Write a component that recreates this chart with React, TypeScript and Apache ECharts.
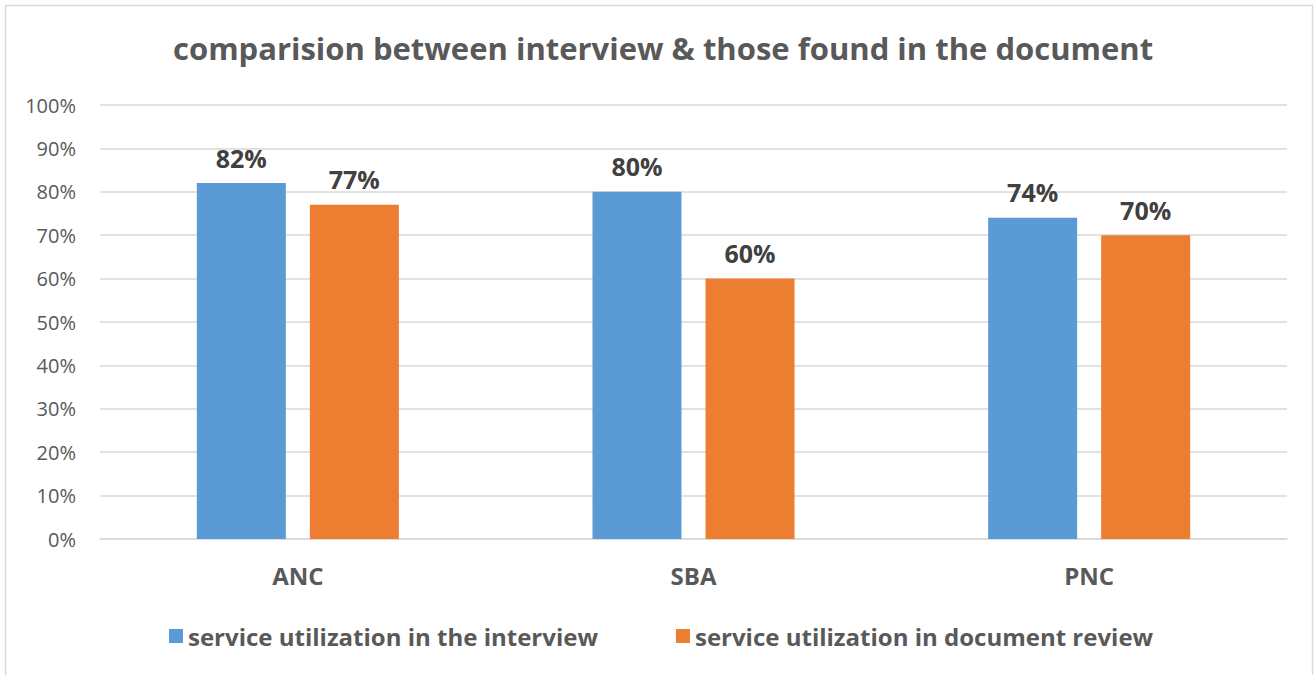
import React, { useEffect, useRef } from "react";
import * as echarts from "echarts";

const categories = ["ANC", "SBA", "PNC"];
const interviewValues = [82, 80, 74];
const documentValues = [77, 60, 70];
const seriesNames = [
  "service utilization in the interview",
  "service utilization in document review",
];
const titleText = "comparision between interview & those found in the document";

const FONT = "'Open Sans', 'Noto Sans', sans-serif";

export default function App() {
  const ref = useRef<HTMLDivElement>(null);
  useEffect(() => {
    if (!ref.current) return;
    const chart = echarts.init(ref.current, null, { renderer: "svg" });
    const labelStyle = {
      show: true,
      position: "top" as const,
      distance: 13,
      formatter: "{c}%",
      fontFamily: FONT,
      fontWeight: "bold" as const,
      fontSize: 25,
      color: "#404040",
    };
    chart.setOption({
      animation: false,
      backgroundColor: "#ffffff",
      textStyle: { fontFamily: FONT },
      title: {
        text: titleText,
        left: 168,
        top: 27,
        textStyle: {
          fontFamily: FONT,
          fontWeight: "bold",
          fontSize: 31,
          color: "#595959",
        },
      },
      graphic: [
        {
          type: "rect",
          shape: { x: 5.5, y: 5.5, width: 1307, height: 680 },
          style: { fill: "none", stroke: "#d9d9d9", lineWidth: 1.5 },
          silent: true,
          z: -1,
        },
      ],
      legend: {
        bottom: 22,
        left: 164,
        itemWidth: 14,
        itemHeight: 14,
        itemGap: 78,
        icon: "rect",
        textStyle: {
          fontFamily: FONT,
          fontWeight: "bold",
          fontSize: 24,
          color: "#595959",
        },
        data: seriesNames,
      },
      grid: { left: 100, right: 28, top: 105, bottom: 136 },
      xAxis: {
        type: "category",
        data: categories,
        axisLine: { show: true, lineStyle: { color: "#d9d9d9", width: 1.5 } },
        axisTick: { show: false },
        axisLabel: {
          margin: 24,
          fontFamily: FONT,
          fontWeight: "bold",
          fontSize: 24,
          color: "#595959",
        },
      },
      yAxis: {
        type: "value",
        min: 0,
        max: 100,
        interval: 10,
        axisLine: { show: false },
        axisTick: { show: false },
        splitLine: { lineStyle: { color: "#d9d9d9", width: 1.5 } },
        axisLabel: {
          formatter: "{value}%",
          margin: 24,
          fontFamily: FONT,
          fontSize: 20,
          color: "#595959",
        },
      },
      series: [
        {
          name: seriesNames[0],
          type: "bar",
          data: interviewValues,
          barWidth: 89,
          barGap: "27%",
          itemStyle: { color: "#5b9bd5" },
          label: labelStyle,
        },
        {
          name: seriesNames[1],
          type: "bar",
          data: documentValues,
          barWidth: 89,
          itemStyle: { color: "#ed7d31" },
          label: labelStyle,
        },
      ],
    });
    return () => chart.dispose();
  }, []);
  return (
    <div
      ref={ref}
      style={{ position: "absolute", left: 0, top: 0, width: 1315, height: 675 }}
    />
  );
}
